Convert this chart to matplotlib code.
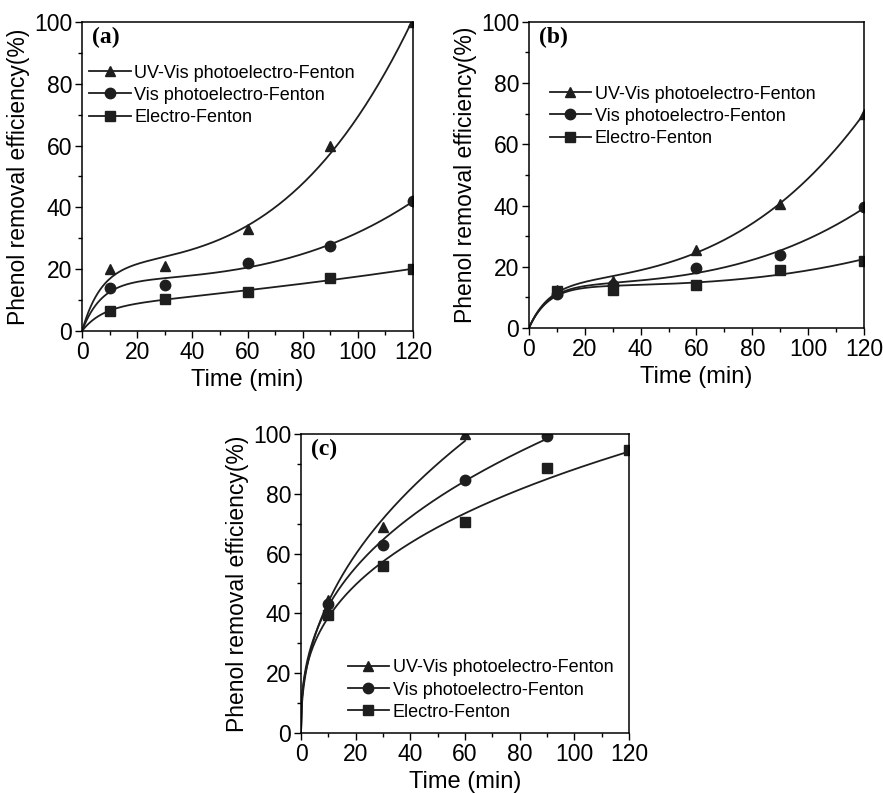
import numpy as np
import matplotlib.pyplot as plt

# sampling times (min)
time_a = [0, 10, 30, 60, 90, 120]
uv_a = [0, 20, 21, 33, 60, 100]
vis_a = [0, 14, 15, 22, 27.5, 42]
ef_a = [0, 6.5, 10.5, 12.5, 17, 20]

time_b = [0, 10, 30, 60, 90, 120]
uv_b = [0, 12.5, 15.5, 25.5, 40.5, 70]
vis_b = [0, 11, 14, 19.5, 24, 39.5]
ef_b = [0, 12, 12.5, 14, 19, 22]

time_c_uv = [0, 10, 30, 60]
uv_c = [0, 44.5, 69, 100]
time_c_vis = [0, 10, 30, 60, 90]
vis_c = [0, 43, 63, 84.5, 99.5]
time_c = [0, 10, 30, 60, 90, 120]
ef_c = [0, 39.5, 56, 70.5, 88.5, 94.5]

labels = ["UV-Vis photoelectro-Fenton", "Vis photoelectro-Fenton", "Electro-Fenton"]
markers = ["^", "o", "s"]

plt.rcParams["font.family"] = ["Liberation Sans", "DejaVu Sans"]


def smooth_fit(t, y, kind):
    """Least-squares trend line through the origin."""
    t = np.asarray(t, float)
    y = np.asarray(y, float)
    tt = np.linspace(0, t.max(), 300)
    if kind == "power":
        # y = c * t^p, fitted on log-log scale
        p, logc = np.polyfit(np.log(t[1:]), np.log(y[1:]), 1)
        return tt, np.exp(logc) * tt ** p

    def basis(x):
        s = x / 120
        return np.column_stack([1 - np.exp(-x / 7.0), s, s ** 3])

    coef, *_ = np.linalg.lstsq(basis(t), y, rcond=None)
    return tt, basis(tt) @ coef


def draw_panel(ax, series, tag, legend_anchor, kind):
    handles = []
    for (t, y), lab, m in zip(series, labels, markers):
        tt, yy = smooth_fit(t, y, kind)
        ax.plot(tt, yy, color="#1e1e1e", lw=1.3)
        ax.plot(t[1:], y[1:], linestyle="none", marker=m, color="#1e1e1e",
                markersize=7.5)
        h, = ax.plot([], [], color="#1e1e1e", lw=1.3, marker=m, markersize=7.5)
        handles.append(h)
    ax.set_xlim(0, 120)
    ax.set_ylim(0, 100)
    ax.set_xticks(range(0, 121, 20))
    ax.set_yticks(range(0, 101, 20))
    ax.set_xticks(range(10, 121, 20), minor=True)
    ax.set_yticks(range(10, 101, 20), minor=True)
    ax.tick_params(which="major", direction="out", length=5, width=1,
                   labelsize=16.5, pad=2)
    ax.tick_params(which="minor", direction="out", length=3, width=1)
    for sp in ax.spines.values():
        sp.set_linewidth(1.1)
    ax.set_xlabel("Time (min)", fontsize=17, labelpad=4)
    ax.set_ylabel("Phenol removal efficiency(%)", fontsize=16.5, labelpad=3)
    ax.text(0.03, 0.985, tag, transform=ax.transAxes, ha="left", va="top",
            fontsize=17, fontweight="bold", family="Liberation Serif")
    ax.legend(handles, labels, loc="upper left", bbox_to_anchor=legend_anchor,
              frameon=False, fontsize=13, handlelength=2.3, handletextpad=0.2,
              labelspacing=0.28, borderaxespad=0)


fig = plt.figure(figsize=(8.83, 7.93), dpi=100)

ax_a = fig.add_axes([0.0929, 0.5826, 0.3748, 0.3897])
draw_panel(ax_a, [(time_a, uv_a), (time_a, vis_a), (time_a, ef_a)], "(a)",
           (0.0, 0.885), "plateau")

ax_b = fig.add_axes([0.599, 0.5864, 0.3794, 0.386])
draw_panel(ax_b, [(time_b, uv_b), (time_b, vis_b), (time_b, ef_b)], "(b)",
           (0.04, 0.815), "plateau")

ax_c = fig.add_axes([0.3409, 0.0757, 0.3715, 0.377])
draw_panel(ax_c, [(time_c_uv, uv_c), (time_c_vis, vis_c), (time_c, ef_c)], "(c)",
           (0.12, 0.27), "power")

fig.savefig("out.png", dpi=100)
